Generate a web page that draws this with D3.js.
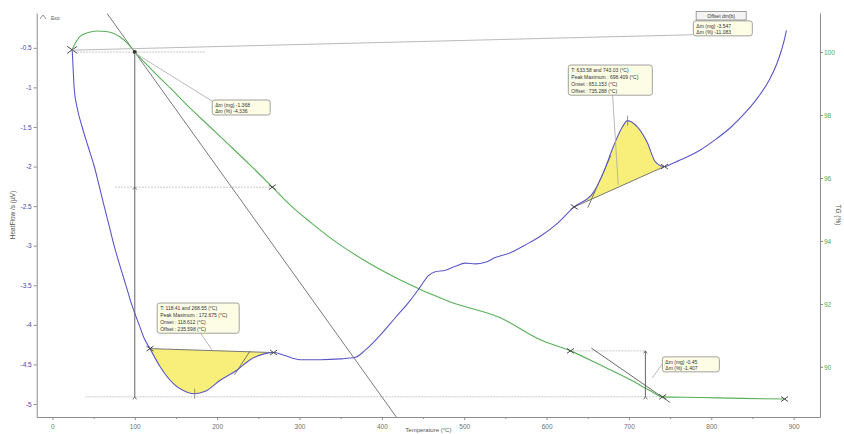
<!DOCTYPE html>
<html>
<head>
<meta charset="utf-8">
<script src="https://cdn.jsdelivr.net/npm/d3@7"></script>
<style>
  html, body { margin: 0; padding: 0; background: #fff; }
  svg { display: block; font-family: "Liberation Sans", Arial, sans-serif; }
</style>
</head>
<body>
<svg id="chart" width="844" height="434"></svg>
<script>
// ---- Heat flow signal (left axis, µV) vs temperature (°C)
const hfTemp = [24, 25.2, 26.4, 30.1, 36.1, 43.4, 50.6, 56.7, 62.8, 68.9, 74.9, 82.2, 89.5, 96.8, 105.3, 111.4,
  118.41, 130.8, 146.6, 163.6, 172.7, 185.5, 203.7, 224.3, 240.1, 255.9, 268.55, 280.2, 300.9, 325.2, 349.5,
  367.7, 379.8, 398, 416.3, 434.5, 446.6, 456.3, 464.8, 477, 489.1, 501.3, 513.4, 525.6, 537.7, 556, 574.2,
  592.4, 610.7, 633.58, 656.7, 668.9, 681, 692, 698.4, 710.2, 722.4, 732.1, 743.03, 752.7, 768.5, 786.7,
  804.9, 823.1, 841.3, 857.1, 871.7, 881.4, 888.7, 891.2];
const hfValue = [-0.525, -0.78, -1.01, -1.26, -1.50, -1.75, -1.99, -2.24, -2.50, -2.75, -3.00, -3.26, -3.51, -3.76, -4.00, -4.17,
  -4.30, -4.53, -4.74, -4.85, -4.87, -4.84, -4.70, -4.57, -4.44, -4.37, -4.35, -4.38, -4.44, -4.44, -4.43,
  -4.41, -4.32, -4.13, -3.91, -3.69, -3.52, -3.38, -3.33, -3.31, -3.26, -3.22, -3.23, -3.21, -3.15, -3.09, -2.99,
  -2.88, -2.74, -2.51, -2.33, -2.08, -1.75, -1.50, -1.42, -1.50, -1.70, -1.94, -2.00, -1.96, -1.89, -1.79,
  -1.66, -1.51, -1.32, -1.12, -0.88, -0.65, -0.40, -0.28];

// ---- Thermogravimetric mass (right axis, %) vs temperature (°C)
const tgTemp = [23.9, 25.1, 28.8, 33.6, 43.4, 54.3, 65.2, 73.7, 82.2, 90.7, 100, 118.6, 142.9, 167.2, 191.5,
  215.8, 240.1, 267, 288.8, 313.1, 337.4, 373.9, 422.4, 483.2, 543.9, 592.4, 629, 665.4, 701.9, 726.2, 741,
  787.8, 836.4, 889];
const tgValue = [100.06, 100.14, 100.33, 100.50, 100.62, 100.67, 100.65, 100.60, 100.48, 100.29, 100.0, 99.49,
  98.86, 98.22, 97.62, 97.02, 96.41, 95.71, 95.14, 94.60, 94.10, 93.46, 92.76, 92.06, 91.56, 90.86, 90.51,
  90.06, 89.59, 89.24, 89.05, 89.03, 89.00, 88.98];

// ---- Axis ticks
const tempTicks = [0, 100, 200, 300, 400, 500, 600, 700, 800, 900];
const tempMinorTicks = [50, 150, 250, 350, 450, 550, 650, 750, 850];
const hfTicks = [-0.5, -1, -1.5, -2, -2.5, -3, -3.5, -4, -4.5, -5];
const hfTickLabels = ["-0.5", "-1", "-1.5", "-2", "-2.5", "-3", "-3.5", "-4", "-4.5", "-5"];
const tgTicks = [90, 92, 94, 96, 98, 100];

// ---- Integrated peaks on the heat-flow curve (°C limits)
const peakLimits = [[118.41, 268.55], [633.58, 743.03]];
const peakMaxima = [172.7, 698.4];
const peakLabels = [
  ["T: 118.41 and 268.55 (°C)", "Peak Maximum :  172.675 (°C)", "Onset :  118.612 (°C)", "Offset :  235.598 (°C)"],
  ["T: 633.58 and 743.03 (°C)", "Peak Maximum :  698.409 (°C)", "Onset :  651.153 (°C)", "Offset :  735.288 (°C)"]
];

// ---- Mass-loss steps on the TG curve (°C, %)
const stepLevels = [100.0, 95.71, 90.51, 89.05];
const stepLabels = [
  ["Δm (mg) -1.368", "Δm (%) -4.336"],
  ["Δm (mg) -0.45", "Δm (%) -1.407"],
  ["Δm (mg) -3.547", "Δm (%) -11.083"]
];

const plot = { left: 36.7, right: 820, top: 13, bottom: 417 };

const x = d3.scaleLinear().domain([-19.1, 932]).range([plot.left, plot.right]);
const yHF = d3.scaleLinear().domain([-5.164, -0.06]).range([plot.bottom, plot.top]);
const yTG = d3.scaleLinear().domain([88.41, 101.24]).range([plot.bottom, plot.top]);

const svg = d3.select("#chart");
const axisColor = "#8c8c8c";
const blue = "#5a58c8";
const green = "#58b058";
const markColor = "#4a4a4a";

svg.append("defs").append("clipPath").attr("id", "plotClip")
  .append("rect")
  .attr("x", plot.left).attr("y", plot.top)
  .attr("width", plot.right - plot.left).attr("height", plot.bottom - plot.top);

// ---- Axes
function styleAxis(g, labelColor) {
  g.selectAll(".domain").attr("stroke", axisColor);
  g.selectAll(".tick line").attr("stroke", axisColor);
  g.selectAll(".tick text").attr("fill", labelColor).style("font-size", "6.5px")
    .style("font-family", "'Liberation Sans', Arial, sans-serif");
}

const gx = svg.append("g").attr("transform", `translate(0,${plot.bottom})`)
  .call(d3.axisBottom(x).tickValues(tempTicks).tickFormat(d => String(d)).tickSize(3).tickSizeOuter(0).tickPadding(4));
styleAxis(gx, "#707070");
const gxm = svg.append("g").attr("transform", `translate(0,${plot.bottom})`)
  .call(d3.axisBottom(x).tickValues(tempMinorTicks).tickFormat("").tickSize(2).tickSizeOuter(0));
gxm.select(".domain").remove();
gxm.selectAll(".tick line").attr("stroke", axisColor);

const gl = svg.append("g").attr("transform", `translate(${plot.left},0)`)
  .call(d3.axisLeft(yHF).tickValues(hfTicks).tickFormat((d, i) => hfTickLabels[i]).tickSize(3).tickSizeOuter(0).tickPadding(2));
styleAxis(gl, "#4848a8");

const gr = svg.append("g").attr("transform", `translate(${plot.right},0)`)
  .call(d3.axisRight(yTG).tickValues(tgTicks).tickFormat(d => String(d)).tickSize(3).tickSizeOuter(0).tickPadding(1));
styleAxis(gr, "#4cae4c");

// Axis titles
svg.append("text")
  .attr("transform", `translate(15,${(plot.top + plot.bottom) / 2}) rotate(-90)`)
  .attr("text-anchor", "middle").attr("fill", "#555").style("font-size", "6.5px")
  .text("HeatFlow /s (µV)");
svg.append("text")
  .attr("transform", `translate(836,${(plot.top + plot.bottom) / 2}) rotate(90)`)
  .attr("text-anchor", "middle").attr("fill", "#555").style("font-size", "6.5px")
  .text("TG (%)");
svg.append("text")
  .attr("x", (plot.left + plot.right) / 2).attr("y", 432)
  .attr("text-anchor", "middle").attr("fill", "#555").style("font-size", "6px")
  .text("Temperature (°C)");

// Exo direction marker
svg.append("path").attr("d", "M40,19 L43,15 L46,19").attr("fill", "none").attr("stroke", "#777").attr("stroke-width", 0.8);
svg.append("text").attr("x", 51).attr("y", 19.5).attr("fill", "#555").style("font-size", "5px").text("Exo");

const layer = svg.append("g").attr("clip-path", "url(#plotClip)");

const hfData = hfTemp.map((t, i) => ({ t, v: hfValue[i] }));
const tgData = tgTemp.map((t, i) => ({ t, v: tgValue[i] }));
const hfAt = t => {
  const i = d3.bisector(d => d.t).left(hfData, t);
  if (i <= 0) return hfData[0].v;
  if (i >= hfData.length) return hfData[hfData.length - 1].v;
  const a = hfData[i - 1], b = hfData[i];
  return a.v + (b.v - a.v) * (t - a.t) / (b.t - a.t);
};

// ---- Helper lines: dotted level guides
const guide = (t0, t1, v, scale) => layer.append("line")
  .attr("x1", x(t0)).attr("x2", x(t1)).attr("y1", scale(v)).attr("y2", scale(v))
  .attr("stroke", "#c8c8c8").attr("stroke-width", 1).attr("stroke-dasharray", "2,1");
guide(30, 185, stepLevels[0], yTG);
guide(76, 267, stepLevels[1], yTG);
guide(40, 741, stepLevels[3], yTG);
guide(629, 720, stepLevels[2], yTG);

// ---- Peak areas
peakLimits.forEach(([t0, t1]) => {
  const v0 = hfAt(t0), v1 = hfAt(t1);
  const base = t => v0 + (v1 - v0) * (t - t0) / (t1 - t0);
  const pts = hfData.filter(d => d.t >= t0 - 1e-6 && d.t <= t1 + 1e-6);
  layer.append("path").datum(pts)
    .attr("d", d3.area().x(d => x(d.t)).y0(d => yHF(base(d.t))).y1(d => yHF(d.v)).curve(d3.curveMonotoneX))
    .attr("fill", "#f7ef7a").attr("stroke", "none");
  layer.append("line")
    .attr("x1", x(t0)).attr("y1", yHF(v0)).attr("x2", x(t1)).attr("y2", yHF(v1))
    .attr("stroke", "#6a6a6a").attr("stroke-width", 0.9);
});

// Onset / offset tangents on the peaks
const lineSeg = (a, b, sa, sb, col, w) => layer.append("line")
  .attr("x1", x(a[0])).attr("y1", sa(a[1])).attr("x2", x(b[0])).attr("y2", sb(b[1]))
  .attr("stroke", col).attr("stroke-width", w);
lineSeg([221, -4.63], [240, -4.33], yHF, yHF, "#6a6a6a", 0.9);
lineSeg([650, -2.52], [678, -1.86], yHF, yHF, "#6a6a6a", 0.9);

// Tangent lines on the TG curve
lineSeg([66.5, 101.22], [420, 88.32], yTG, yTG, "#7a7a7a", 1);
lineSeg([654.3, 90.60], [750, 88.87], yTG, yTG, "#6a6a6a", 1);

// ---- Curves
layer.append("path").datum(tgData)
  .attr("d", d3.line().x(d => x(d.t)).y(d => yTG(d.v)).curve(d3.curveMonotoneX))
  .attr("fill", "none").attr("stroke", green).attr("stroke-width", 1.1);
layer.append("path").datum(hfData)
  .attr("d", d3.line().x(d => x(d.t)).y(d => yHF(d.v)).curve(d3.curveMonotoneX))
  .attr("fill", "none").attr("stroke", blue).attr("stroke-width", 1.1);

// ---- Step measurement lines
const vMeasure = (t, vTop, vBottom, mid) => {
  layer.append("line").attr("x1", x(t)).attr("x2", x(t)).attr("y1", yTG(vTop)).attr("y2", yTG(vBottom))
    .attr("stroke", "#555").attr("stroke-width", 0.9);
  const tri = (v, dir) => layer.append("path")
    .attr("d", `M${x(t) - 1.8},${yTG(v) + dir * 2.5} L${x(t)},${yTG(v)} L${x(t) + 1.8},${yTG(v) + dir * 2.5}`)
    .attr("fill", "none").attr("stroke", "#555").attr("stroke-width", 0.8);
  tri(vBottom, 1);
  if (mid !== undefined) tri(mid, 1);
  return tri;
};
vMeasure(100, stepLevels[0], stepLevels[3], stepLevels[1]);
layer.append("circle").attr("cx", x(100)).attr("cy", yTG(stepLevels[0])).attr("r", 2).attr("fill", "#333");
const tri2 = vMeasure(720, stepLevels[2], stepLevels[3]);
tri2(stepLevels[2], 1);

// ---- Peak maximum ticks
peakMaxima.forEach(t => {
  const v = hfAt(t);
  layer.append("line").attr("x1", x(t)).attr("x2", x(t)).attr("y1", yHF(v) - 5).attr("y2", yHF(v) + 5)
    .attr("stroke", "#777").attr("stroke-width", 0.8);
});

// ---- Cross markers at analysis limits
const cross = (t, py, s) => svg.append("path")
  .attr("d", `M${x(t) - s},${py - s * 0.7} L${x(t) + s},${py + s * 0.7} M${x(t) - s},${py + s * 0.7} L${x(t) + s},${py - s * 0.7}`)
  .attr("stroke", markColor).attr("stroke-width", 1).attr("fill", "none");
cross(hfTemp[0], yHF(hfValue[0]), 5);
peakLimits.forEach(([t0, t1]) => { cross(t0, yHF(hfAt(t0)), 3.5); cross(t1, yHF(hfAt(t1)), 3.5); });
cross(267, yTG(95.71), 3.5);
cross(629, yTG(90.51), 3.5);
cross(741, yTG(89.05), 3.5);
cross(889, yTG(88.98), 3.5);

// ---- Leader lines from result boxes
const leader = (a, b, sa, sb) => svg.append("line")
  .attr("x1", x(a[0])).attr("y1", sa(a[1])).attr("x2", x(b[0])).attr("y2", sb(b[1]))
  .attr("stroke", "#a8a8a8").attr("stroke-width", 0.8);
leader([24, 100.06], [778, 100.55], yTG, yTG);
leader([100, 99.97], [194, 98.44], yTG, yTG);
leader([179.5, -4.10], [194, -4.32], yHF, yHF);
leader([680, -1.07], [687, -2.23], yHF, yHF);
leader([740.6, 90.1], [728.5, 89.65], yTG, yTG);

// ---- Result boxes
function resultBox(t, v, scale, w, lines, lh) {
  const bx = x(t), by = scale(v);
  const g = svg.append("g").attr("transform", `translate(${bx},${by})`);
  g.append("rect").attr("width", w).attr("height", lines.length * lh + 3).attr("rx", 2.5)
    .attr("fill", "#fdfde6").attr("stroke", "#8a8a8a").attr("stroke-width", 0.8);
  lines.forEach((s, i) => g.append("text").attr("x", 3).attr("y", 2 + lh * (i + 0.8))
    .attr("fill", "#333").style("font-size", "5px").text(s));
}
resultBox(127.2, -3.724, yHF, 82, peakLabels[0], 6.8);
resultBox(626.4, -0.717, yHF, 84, peakLabels[1], 6.8);
resultBox(194, -1.159, yHF, 58, stepLabels[0], 6);
resultBox(740.6, 90.32, yTG, 57, stepLabels[1], 6);
resultBox(778.2, 100.99, yTG, 59, stepLabels[2], 6);

// Header tag above the total-loss box
const hx = x(781.6), hy = 11.5;
svg.append("rect").attr("x", hx).attr("y", hy).attr("width", 50).attr("height", 8.5)
  .attr("fill", "#f4f4f4").attr("stroke", "#777").attr("stroke-width", 0.7);
svg.append("text").attr("x", hx + 25).attr("y", hy + 6.3).attr("text-anchor", "middle")
  .attr("fill", "#333").style("font-size", "5px").text("Offset dm(b)");
</script>
</body>
</html>
